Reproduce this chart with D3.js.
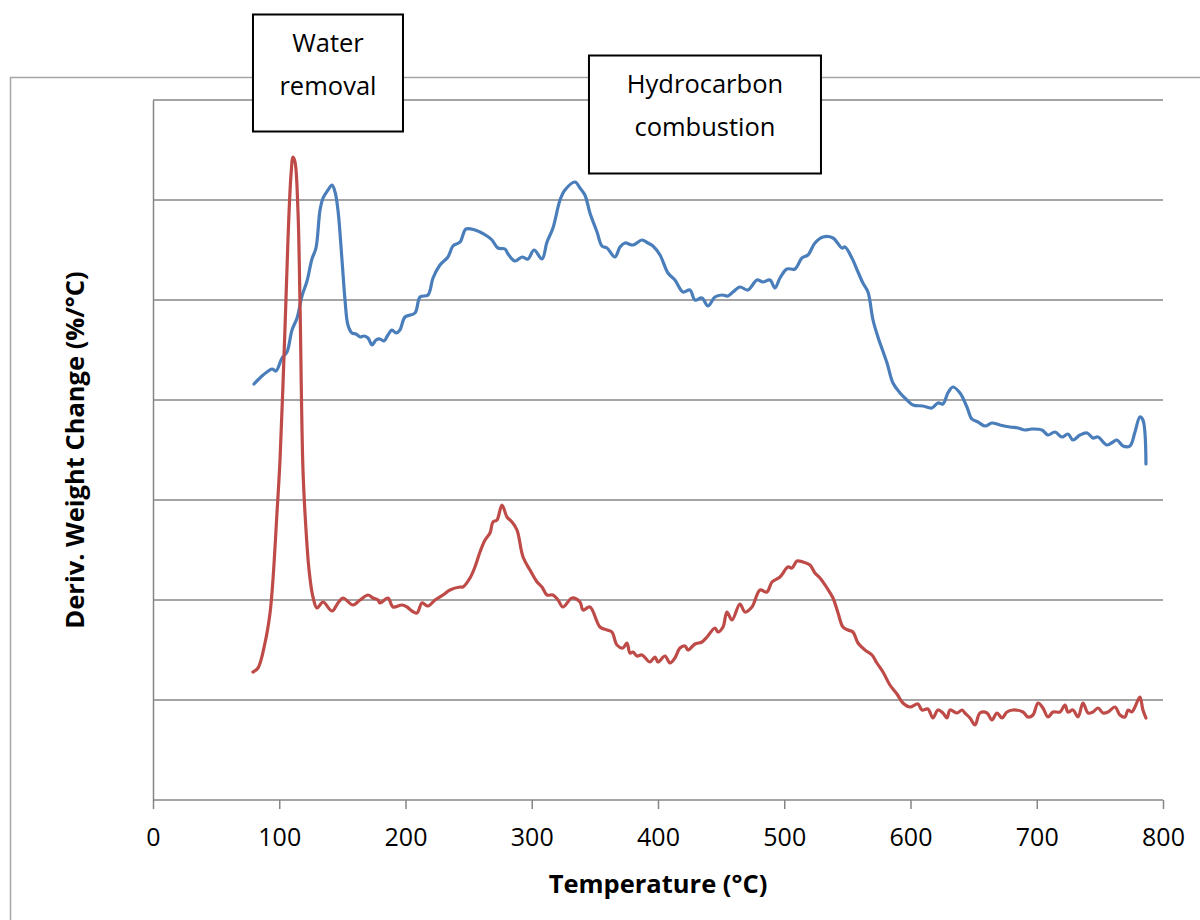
<!DOCTYPE html>
<html>
<head>
<meta charset="utf-8">
<title>Deriv. weight change</title>
<style>
    body { margin: 0; background: #fff; }
    svg#chart text { font-family: "Open Sans", "Liberation Sans", sans-serif; fill: #000; }
    .grid line { stroke: #868686; stroke-width: 1.5; }
    .axis path, .axis line { stroke: #868686; stroke-width: 1.5; }
    .note rect { fill: #fff; stroke: #000; stroke-width: 2; }
</style>
</head>
<body>
<svg id="chart"></svg>
<script src="https://cdn.jsdelivr.net/npm/d3@7"></script>
<script>
// temperature (°C) and derivative weight change
var blueTemp = [80.0, 86.3, 90.3, 94.3, 97.4, 102.2, 106.1, 110.1, 114.1, 118.0, 122.0, 125.9, 129.1, 132.3, 134.7, 138.6, 141.8, 144.2, 146.5, 149.7,
    152.1, 154.4, 157.6, 160.8, 164.0, 167.1, 170.3, 173.5, 176.6, 179.8, 183.0, 186.1, 189.3, 192.5, 195.6, 199.6, 207.5, 211.5, 217.8, 221.8,
    227.3, 233.6, 237.6, 243.2, 247.9, 255.0, 259.0, 264.5, 268.5, 273.2, 278.8, 281.2, 286.7, 292.3, 297.0, 301.8, 308.1, 312.1, 316.8, 322.4,
    326.3, 334.3, 338.2, 342.1, 346.1, 351.7, 355.6, 359.6, 365.9, 369.9, 373.8, 380.2, 387.3, 392.0, 396.0, 401.6, 407.9, 413.4, 419.8, 425.3,
    429.3, 434.8, 439.6, 445.1, 450.7, 455.4, 459.4, 464.9, 471.2, 478.4, 483.1, 488.7, 492.6, 496.6, 502.1, 508.5, 514.0, 518.8, 524.3, 530.7,
    538.6, 545.7, 548.1, 553.6, 558.4, 562.3, 566.3, 570.3, 574.2, 581.4, 586.1, 591.7, 597.2, 602.0, 609.8, 617.0, 621.7, 625.7, 629.6, 633.6,
    639.2, 644.7, 648.6, 653.4, 659.0, 664.5, 670.8, 678.8, 685.1, 690.7, 696.2, 704.1, 708.9, 714.4, 720.0, 724.7, 728.7, 734.2, 739.8, 744.5,
    748.5, 755.6, 760.4, 763.5, 768.3, 773.8, 777.8, 781.7, 784.1, 786.5];
var blueDeriv = [4.16, 4.24, 4.28, 4.31, 4.29, 4.42, 4.48, 4.70, 4.82, 5.04, 5.19, 5.41, 5.52, 5.90, 6.02, 6.10, 6.15, 6.08, 5.90, 5.40,
    5.00, 4.75, 4.67, 4.66, 4.63, 4.64, 4.62, 4.55, 4.60, 4.61, 4.59, 4.65, 4.70, 4.67, 4.70, 4.83, 4.87, 5.03, 5.05, 5.22,
    5.35, 5.43, 5.54, 5.58, 5.71, 5.70, 5.68, 5.64, 5.60, 5.52, 5.51, 5.46, 5.39, 5.43, 5.41, 5.50, 5.41, 5.58, 5.72, 6.00,
    6.10, 6.18, 6.12, 6.05, 5.87, 5.68, 5.54, 5.52, 5.43, 5.53, 5.57, 5.55, 5.60, 5.57, 5.54, 5.45, 5.27, 5.20, 5.08, 5.10,
    5.00, 5.02, 4.94, 5.03, 5.05, 5.04, 5.08, 5.13, 5.10, 5.20, 5.18, 5.20, 5.12, 5.22, 5.31, 5.31, 5.42, 5.45, 5.57, 5.63,
    5.62, 5.52, 5.53, 5.42, 5.28, 5.17, 5.08, 4.80, 4.63, 4.37, 4.17, 4.07, 4.00, 3.95, 3.94, 3.92, 3.97, 3.96, 4.07, 4.13,
    4.07, 3.93, 3.81, 3.78, 3.74, 3.77, 3.75, 3.73, 3.72, 3.70, 3.71, 3.70, 3.65, 3.68, 3.63, 3.66, 3.60, 3.65, 3.67, 3.62,
    3.63, 3.55, 3.58, 3.60, 3.54, 3.54, 3.68, 3.83, 3.80, 3.36];

var redTemp = [79.2, 83.2, 88.7, 92.7, 95.0, 98.2, 100.6, 104.5, 106.9, 109.3, 110.9, 112.5, 114.8, 116.4, 118.8, 121.2, 123.6, 126.7, 129.9, 134.7,
    141.8, 146.5, 150.5, 158.4, 164.0, 170.3, 174.3, 178.2, 179.8, 186.1, 190.1, 197.2, 201.2, 205.1, 209.1, 213.1, 217.8, 223.4, 229.7, 235.2,
    243.2, 245.5, 251.1, 255.0, 259.0, 263.0, 266.9, 269.3, 272.5, 276.4, 280.4, 284.3, 288.3, 293.1, 298.6, 304.2, 308.1, 312.1, 316.8, 320.8,
    324.7, 331.9, 338.2, 340.6, 346.1, 354.0, 359.6, 363.5, 367.5, 372.3, 375.4, 377.8, 380.2, 383.3, 387.3, 393.6, 397.6, 400.0, 405.5, 409.5,
    413.4, 417.4, 421.4, 423.8, 429.3, 434.8, 438.8, 445.1, 447.5, 451.5, 454.6, 458.6, 464.9, 468.9, 474.4, 480.8, 486.3, 490.3, 496.6, 502.9,
    506.1, 510.1, 514.8, 520.4, 524.3, 528.3, 533.9, 538.6, 542.6, 546.5, 550.5, 554.4, 558.4, 563.9, 569.5, 573.4, 578.2, 583.7, 589.3, 594.0,
    599.6, 605.9, 609.1, 613.8, 617.8, 621.7, 625.7, 628.9, 631.3, 636.8, 640.8, 643.1, 647.1, 651.1, 655.0, 660.6, 664.5, 668.5, 672.5, 676.4,
    681.2, 689.1, 693.1, 697.0, 701.0, 704.9, 708.9, 712.9, 718.4, 722.4, 724.7, 728.7, 732.7, 736.6, 740.6, 744.5, 748.5, 752.5, 756.4, 762.0,
    765.9, 769.9, 772.3, 775.4, 777.8, 781.7, 784.1, 786.5];
var redDeriv = [1.28, 1.32, 1.57, 1.87, 2.20, 2.87, 3.40, 4.70, 5.60, 6.25, 6.43, 6.38, 5.90, 5.00, 3.30, 2.70, 2.30, 2.03, 1.92, 1.98,
    1.89, 1.97, 2.02, 1.95, 2.00, 2.05, 2.02, 2.00, 1.97, 2.02, 1.93, 1.95, 1.93, 1.89, 1.87, 1.97, 1.94, 2.00, 2.05, 2.10,
    2.13, 2.13, 2.22, 2.33, 2.48, 2.60, 2.67, 2.78, 2.80, 2.95, 2.83, 2.78, 2.70, 2.43, 2.30, 2.18, 2.13, 2.05, 2.05, 2.00,
    1.93, 2.02, 1.98, 1.90, 1.93, 1.73, 1.70, 1.68, 1.55, 1.52, 1.57, 1.47, 1.48, 1.44, 1.45, 1.38, 1.43, 1.38, 1.44, 1.37,
    1.42, 1.52, 1.54, 1.50, 1.56, 1.58, 1.63, 1.72, 1.68, 1.73, 1.88, 1.80, 1.96, 1.88, 1.93, 2.10, 2.08, 2.18, 2.23, 2.33,
    2.32, 2.39, 2.38, 2.35, 2.27, 2.22, 2.12, 2.02, 1.87, 1.73, 1.70, 1.68, 1.57, 1.50, 1.45, 1.37, 1.28, 1.15, 1.06, 0.97,
    0.93, 0.96, 0.90, 0.91, 0.82, 0.90, 0.87, 0.82, 0.90, 0.87, 0.90, 0.87, 0.82, 0.75, 0.87, 0.87, 0.80, 0.87, 0.82, 0.88,
    0.90, 0.88, 0.83, 0.85, 0.97, 0.92, 0.83, 0.88, 0.88, 0.95, 0.88, 0.90, 0.83, 0.97, 0.87, 0.88, 0.92, 0.87, 0.88, 0.93,
    0.85, 0.83, 0.90, 0.88, 0.93, 1.03, 0.90, 0.82];

var xTicks = [0, 100, 200, 300, 400, 500, 600, 700, 800];
var yGrid = [1, 2, 3, 4, 5, 6, 7];
var noteLines = [["Water", "removal"], ["Hydrocarbon", "combustion"]];
var noteTemp = [138.6, 437.2];   // box centres on the temperature axis

var chart = {
    margin: { top: 100, right: 37, bottom: 120, left: 153 },
    w: 1200, h: 920
};
var width = chart.w - chart.margin.left - chart.margin.right;
var height = chart.h - chart.margin.top - chart.margin.bottom;

var svg = d3.select("svg#chart").attr("width", chart.w).attr("height", chart.h);

// outer chart-area border (runs off the right and bottom)
svg.append("rect")
    .attr("x", 10.5).attr("y", 77.5)
    .attr("width", 1300).attr("height", 1000)
    .attr("fill", "none").attr("stroke", "#a6a6a6").attr("stroke-width", 1.5);

var x = d3.scaleLinear().domain([0, 800]).range([0, width]);
var y = d3.scaleLinear().domain([0, 7]).range([height, 0]);

var g = svg.append("g")
    .attr("transform", "translate(" + chart.margin.left + "," + chart.margin.top + ")");

g.append("g").attr("class", "grid")
    .selectAll("line").data(yGrid).enter().append("line")
    .attr("x1", 0).attr("x2", width)
    .attr("y1", function(d) { return y(d); })
    .attr("y2", function(d) { return y(d); });

g.append("g").attr("class", "axis axis--y")
    .call(d3.axisLeft(y).tickValues([]).tickSizeOuter(0));

var xAxis = g.append("g").attr("class", "axis axis--x")
    .attr("transform", "translate(0," + height + ")")
    .call(d3.axisBottom(x).tickValues(xTicks).tickSize(9).tickSizeOuter(0).tickFormat(d3.format("d")));
xAxis.selectAll("text").attr("y", 28).style("font-size", "25px");
xAxis.select(".domain").attr("d", "M0.5,0H" + width);

var line = d3.line()
    .x(function(d) { return x(d[0]); })
    .y(function(d) { return y(d[1]); })
    .curve(d3.curveCatmullRom.alpha(0.5));

var series = [
    { temp: blueTemp, deriv: blueDeriv, color: "#4a7ebb" },
    { temp: redTemp, deriv: redDeriv, color: "#be4b48" }
];
series.forEach(function(s) {
    g.append("path")
        .datum(d3.zip(s.temp, s.deriv))
        .attr("fill", "none")
        .attr("stroke", s.color)
        .attr("stroke-width", 3.2)
        .attr("stroke-linejoin", "round")
        .attr("stroke-linecap", "round")
        .attr("d", line);
});

// axis titles
svg.append("text")
    .attr("x", chart.margin.left + x(400)).attr("y", 893)
    .attr("text-anchor", "middle")
    .style("font-size", "25.5px").style("font-weight", "bold")
    .text("Temperature (°C)");

svg.append("text")
    .attr("transform", "translate(84," + (chart.margin.top + height / 2) + ") rotate(-90)")
    .attr("text-anchor", "middle")
    .style("font-size", "25.5px").style("font-weight", "bold")
    .text("Deriv. Weight Change (%/°C)");

// annotation boxes
var boxes = [
    { cx: chart.margin.left + x(noteTemp[0]), top: 14.5, w: 150, h: 117 },
    { cx: chart.margin.left + x(noteTemp[1]), top: 55.5, w: 232, h: 118 }
];
boxes.forEach(function(b, i) {
    var n = svg.append("g").attr("class", "note");
    n.append("rect")
        .attr("x", b.cx - b.w / 2).attr("y", b.top)
        .attr("width", b.w).attr("height", b.h);
    noteLines[i].forEach(function(t, k) {
        n.append("text")
            .attr("x", b.cx).attr("y", b.top + 37 + k * 43)
            .attr("text-anchor", "middle")
            .style("font-size", "25.5px")
            .text(t);
    });
});
</script>
</body>
</html>
